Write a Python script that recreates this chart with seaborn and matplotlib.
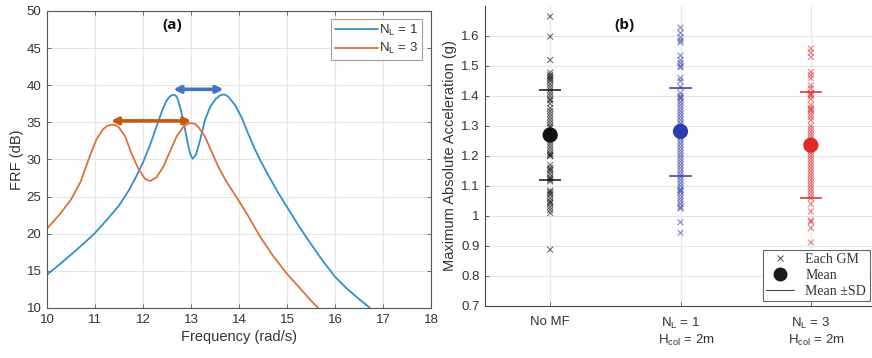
import matplotlib
matplotlib.use("Agg")
import matplotlib.pyplot as plt
from matplotlib.lines import Line2D
from matplotlib.ticker import FuncFormatter
import numpy as np
import pandas as pd
import seaborn as sns

# ---------------- data ----------------
freq_nl1 = [10.0, 10.25, 10.5, 10.75, 11.0, 11.25, 11.5, 11.7, 11.85, 12.0, 12.15, 12.3,
            12.4, 12.46, 12.5, 12.56, 12.6, 12.65, 12.69, 12.72, 12.78, 12.85, 12.92, 12.98,
            13.03, 13.1, 13.19, 13.29, 13.4, 13.52, 13.6, 13.66, 13.72, 13.78, 13.92, 14.06,
            14.19, 14.33, 14.45, 14.6, 14.8, 15.0, 15.25, 15.5, 15.75, 16.0, 16.25, 16.5, 16.73]
frf_nl1 = [14.5, 15.8, 17.2, 18.6, 20.1, 21.9, 23.8, 25.8, 27.6, 29.6, 32.0, 34.8,
           36.6, 37.5, 38.0, 38.5, 38.65, 38.7, 38.55, 38.2, 36.9, 34.9, 32.6, 30.8,
           30.1, 30.6, 32.6, 35.3, 37.1, 38.2, 38.6, 38.75, 38.7, 38.45, 37.3, 35.6,
           33.5, 31.4, 29.8, 28.0, 25.7, 23.6, 21.0, 18.6, 16.3, 14.2, 12.6, 11.2, 10.0]

freq_nl3 = [10.0, 10.25, 10.5, 10.7, 10.9, 11.03, 11.17, 11.26, 11.35, 11.42, 11.49, 11.63,
            11.76, 11.9, 12.04, 12.15, 12.28, 12.42, 12.56, 12.7, 12.84, 12.93, 13.01, 13.08,
            13.15, 13.29, 13.43, 13.57, 13.74, 13.85, 14.0, 14.2, 14.44, 14.7, 15.0, 15.25,
            15.5, 15.65]
frf_nl3 = [20.7, 22.5, 24.6, 27.0, 30.6, 32.7, 34.1, 34.55, 34.7, 34.65, 34.4, 33.1,
           30.8, 28.8, 27.4, 27.1, 27.6, 29.0, 31.05, 33.1, 34.4, 34.8, 34.9, 34.8,
           34.4, 33.1, 31.05, 29.0, 27.0, 25.9, 24.4, 22.3, 19.6, 17.1, 14.6, 12.8,
           11.0, 10.0]

series_labels = [r"N$_\mathregular{L}$ = 1", r"N$_\mathregular{L}$ = 3"]

# double-headed arrows: start freq, end freq, level (dB)
arrow_x0 = [12.63, 11.33]
arrow_x1 = [13.68, 13.01]
arrow_y = [39.45, 35.2]

cases = ["No MF", "NL1", "NL3"]
case_ticklabels = ["No MF",
                   "N$_\\mathregular{L}$ = 1\n   H$_\\mathregular{col}$ = 2m",
                   "N$_\\mathregular{L}$ = 3\n   H$_\\mathregular{col}$ = 2m"]

acc_nomf = [1.665, 1.598, 1.52, 1.478, 1.47, 1.465, 1.46, 1.455, 1.45, 1.44, 1.43, 1.42,
            1.41, 1.40, 1.39, 1.385, 1.375, 1.36, 1.35, 1.34, 1.33, 1.32, 1.31, 1.30,
            1.295, 1.28, 1.27, 1.26, 1.25, 1.24, 1.23, 1.22, 1.21, 1.205, 1.20, 1.20,
            1.17, 1.16, 1.155, 1.15, 1.14, 1.13, 1.125, 1.12, 1.115, 1.085, 1.08, 1.075,
            1.07, 1.06, 1.05, 1.045, 1.04, 1.03, 1.02, 1.01, 0.888]
acc_nl1 = [1.628, 1.61, 1.595, 1.585, 1.578, 1.535, 1.52, 1.51, 1.50, 1.495, 1.46, 1.45,
           1.43, 1.41, 1.40, 1.395, 1.39, 1.38, 1.37, 1.36, 1.35, 1.34, 1.33, 1.32, 1.31,
           1.30, 1.29, 1.28, 1.27, 1.26, 1.25, 1.24, 1.23, 1.22, 1.21, 1.20, 1.19, 1.18,
           1.17, 1.16, 1.15, 1.14, 1.13, 1.12, 1.11, 1.10, 1.09, 1.085, 1.08, 1.07, 1.06,
           1.05, 1.04, 1.03, 1.025, 0.979, 0.944]
acc_nl3 = [1.558, 1.545, 1.53, 1.48, 1.47, 1.46, 1.435, 1.425, 1.41, 1.405, 1.40, 1.39,
           1.37, 1.36, 1.355, 1.35, 1.34, 1.33, 1.32, 1.30, 1.29, 1.28, 1.27, 1.26, 1.25,
           1.24, 1.23, 1.22, 1.21, 1.20, 1.19, 1.18, 1.17, 1.16, 1.15, 1.14, 1.13, 1.12,
           1.11, 1.10, 1.09, 1.08, 1.07, 1.06, 1.04, 1.015, 0.985, 0.98, 0.96, 0.912]

acc_mean = [1.27, 1.282, 1.236]
acc_sd_lo = [1.12, 1.132, 1.059]
acc_sd_hi = [1.42, 1.427, 1.412]

# ---------------- styling ----------------
sns.set_theme(style="whitegrid")
plt.rcParams["font.family"] = ["Liberation Sans", "DejaVu Sans"]
plt.rcParams["mathtext.fontset"] = "custom"
plt.rcParams["mathtext.rm"] = "Liberation Sans"

line_colors = ["#2F8FD0", "#E0703A"]
arrow_colors = ["#4472C4", "#C55A11"]
case_colors = ["#111111", "#2F3BB0", "#E02A2A"]
grid_c = "#E6E6E6"
spine_c = "#555555"
text_c = "#333333"

fig = plt.figure(figsize=(8.72, 3.58), dpi=100)
ax1 = fig.add_axes([47 / 872, 1 - 308 / 358, 384 / 872, 297 / 358])
ax2 = fig.add_axes([485 / 872, 1 - 306 / 358, 391 / 872, 300 / 358])

# ---------------- panel (a) ----------------
df_frf = pd.concat([
    pd.DataFrame({"freq": freq_nl1, "frf": frf_nl1, "series": series_labels[0]}),
    pd.DataFrame({"freq": freq_nl3, "frf": frf_nl3, "series": series_labels[1]}),
])
sns.lineplot(data=df_frf, x="freq", y="frf", hue="series", palette=line_colors,
             estimator=None, sort=False, lw=1.3, ax=ax1, legend=False)
for ln in ax1.get_lines():
    ln.set_solid_joinstyle("round")
ax1.set_xlim(10, 18)
ax1.set_ylim(10, 50)
ax1.set_xticks(np.arange(10, 19, 1))
ax1.set_yticks(np.arange(10, 51, 5))
ax1.set_xlabel("Frequency (rad/s)", fontsize=10.5, color=text_c, labelpad=3)
ax1.set_ylabel("FRF (dB)", fontsize=10.5, color=text_c, labelpad=2)
ax1.grid(True, color=grid_c, lw=0.8)
for s in ax1.spines.values():
    s.set_visible(True)
    s.set_color(spine_c)
    s.set_linewidth(0.8)
ax1.tick_params(direction="in", length=3, width=0.6, colors=spine_c,
                labelcolor=text_c, labelsize=9.5, pad=4, top=True, right=True,
                bottom=True, left=True, labeltop=False, labelright=False)

for x0, x1, y, c in zip(arrow_x0, arrow_x1, arrow_y, arrow_colors):
    ax1.annotate("", xy=(x1, y), xytext=(x0, y),
                 arrowprops=dict(arrowstyle="<|-|>", color=c, lw=2.6,
                                 mutation_scale=10, shrinkA=0, shrinkB=0))

ax1.text(12.6, 48.1, "(a)", fontsize=11, fontweight="bold", ha="center", va="center",
         family=["Open Sans", "DejaVu Sans"], color="#111111")

h1 = [Line2D([], [], color=c, lw=1.3) for c in line_colors]
leg1 = ax1.legend(h1, series_labels, loc="upper right",
                  bbox_to_anchor=(422 / 872, 1 - 19 / 358), bbox_transform=fig.transFigure,
                  borderaxespad=0, fontsize=9.5, handlelength=3.2, handletextpad=0.1,
                  labelspacing=0.25, borderpad=0.3, frameon=True, fancybox=False)
leg1.get_frame().set_edgecolor("#888888")
leg1.get_frame().set_linewidth(0.8)
for t in leg1.get_texts():
    t.set_color(text_c)

# ---------------- panel (b) ----------------
df_gm = pd.concat([
    pd.DataFrame({"case": cases[i], "pos": i + 1, "acc": vals})
    for i, vals in enumerate([acc_nomf, acc_nl1, acc_nl3])
])
sns.scatterplot(data=df_gm, x="pos", y="acc", hue="case", palette=case_colors,
                marker="x", s=18, linewidth=0.8, alpha=0.6, ax=ax2, legend=False, zorder=2)

df_mean = pd.DataFrame({"case": cases, "pos": [1, 2, 3], "acc": acc_mean,
                        "lo": acc_sd_lo, "hi": acc_sd_hi})
sns.scatterplot(data=df_mean, x="pos", y="acc", hue="case", palette=case_colors,
                marker="o", s=120, linewidth=0, ax=ax2, legend=False, zorder=4)
half_w = 0.085
for _, r in df_mean.iterrows():
    c = case_colors[cases.index(r["case"])]
    ax2.hlines([r["lo"], r["hi"]], r["pos"] - half_w, r["pos"] + half_w,
               colors=c, lw=1.3, alpha=0.85, zorder=3)

ax2.set_xlim(0.5, 3.5)
ax2.set_ylim(0.7, 1.7)
ax2.set_xticks([1, 2, 3])
ax2.set_xticklabels(case_ticklabels, fontsize=10, color=text_c)
ax2.set_yticks(np.round(np.arange(0.7, 1.61, 0.1), 1))
ax2.yaxis.set_major_formatter(FuncFormatter(lambda v, p: f"{v:g}"))
ax2.set_xlabel("")
ax2.set_ylabel("Maximum Absolute Acceleration (g)", fontsize=10.5, color=text_c, labelpad=3)
ax2.grid(True, color=grid_c, lw=0.8)
ax2.spines["top"].set_visible(False)
ax2.spines["right"].set_visible(False)
for k in ["left", "bottom"]:
    ax2.spines[k].set_visible(True)
    ax2.spines[k].set_color("#444444")
    ax2.spines[k].set_linewidth(0.8)
ax2.tick_params(direction="in", length=3, width=0.6, colors=spine_c,
                labelcolor=text_c, labelsize=9.5, pad=4, bottom=True, left=True)
ax2.tick_params(axis="x", pad=7)

ax2.text(1.57, 1.637, "(b)", fontsize=11, fontweight="bold", ha="center", va="center",
         family=["Open Sans", "DejaVu Sans"], color="#111111")

h2 = [Line2D([], [], marker="x", ls="", color="k", ms=4, mew=0.8, alpha=0.7),
      Line2D([], [], marker="o", ls="", color="k", ms=9),
      Line2D([], [], color="k", lw=0.8, alpha=0.8)]
leg2 = ax2.legend(h2, ["Each GM", "Mean", "Mean \u00b1SD"], loc="lower left",
                  bbox_to_anchor=(763 / 872, 1 - 301 / 358), bbox_transform=fig.transFigure,
                  borderaxespad=0, prop={"family": ["Liberation Serif", "DejaVu Serif"], "size": 10},
                  handlelength=2.0, handletextpad=0.8, labelspacing=0.2, borderpad=0.25,
                  frameon=True, fancybox=False, framealpha=1)
leg2.get_frame().set_edgecolor("#666666")
leg2.get_frame().set_linewidth(0.8)
for t in leg2.get_texts():
    t.set_color(text_c)

fig.savefig("out.png", dpi=100)
